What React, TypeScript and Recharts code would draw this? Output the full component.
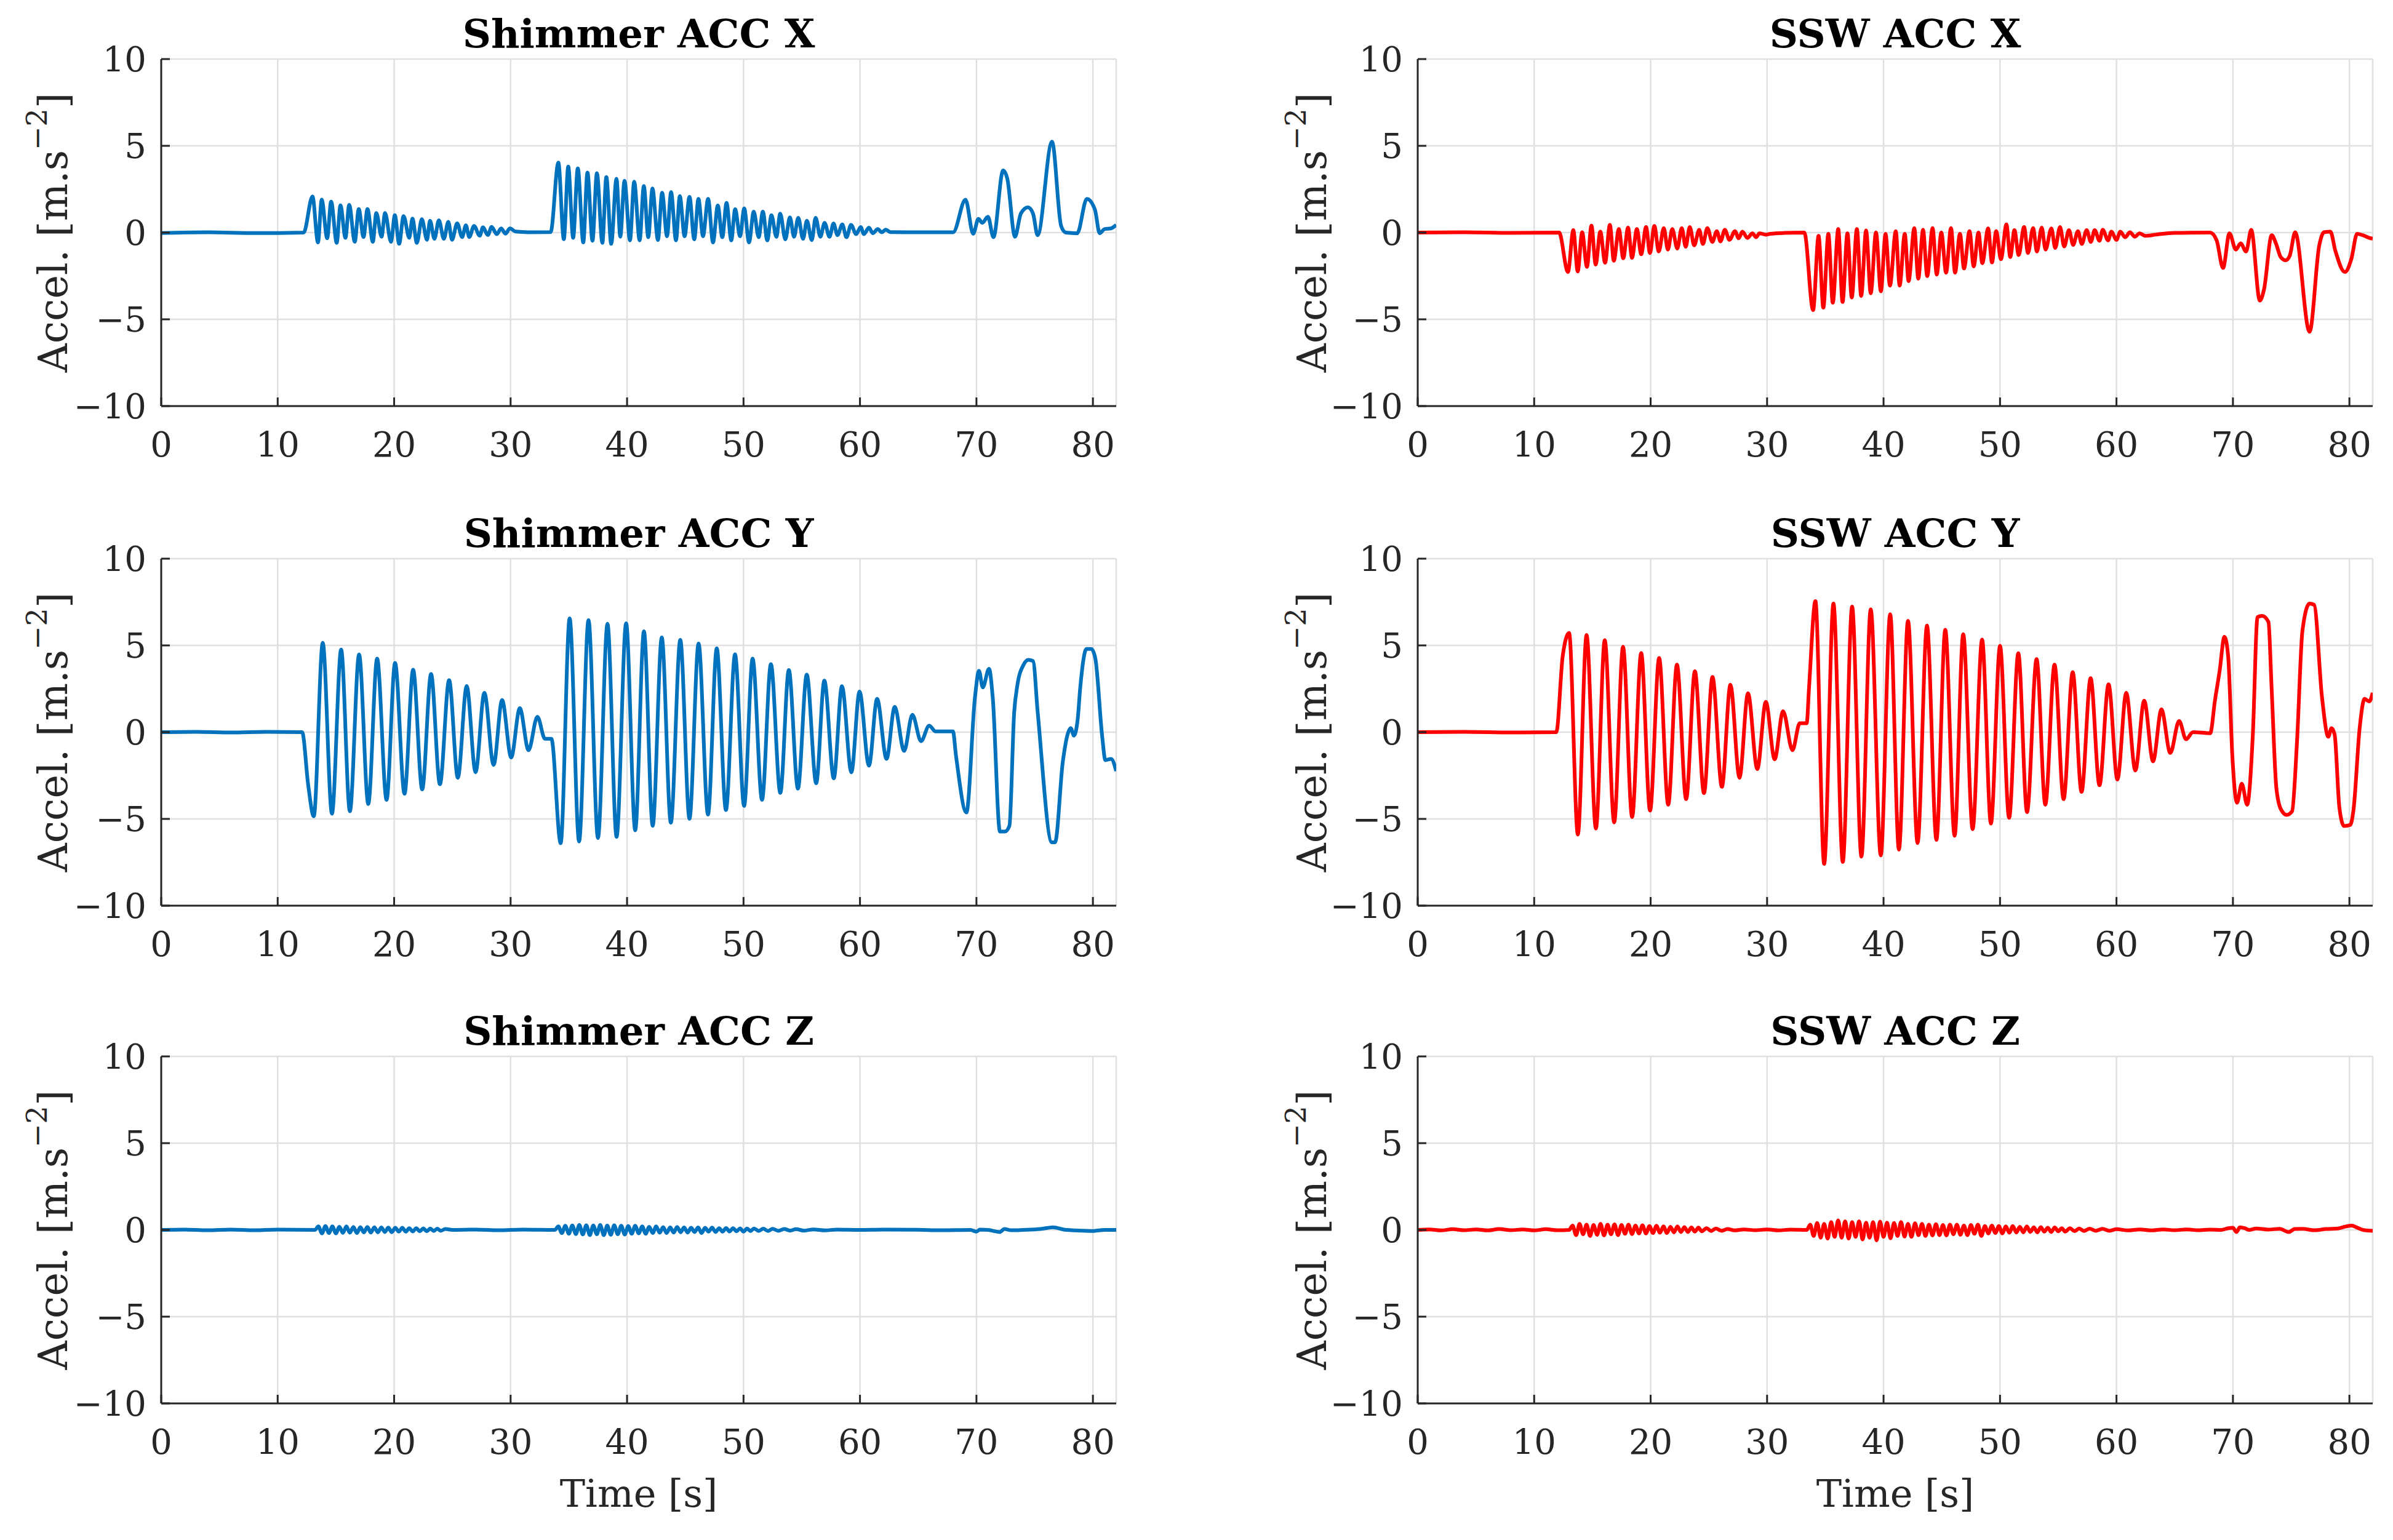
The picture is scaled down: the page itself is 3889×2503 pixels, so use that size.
import React from 'react';
import { LineChart, Line, XAxis, YAxis, CartesianGrid, Label } from 'recharts';

type Pt = [number, number];

const FONT = '"DejaVu Serif", "Liberation Serif", serif';
const INK = '#262626';
const GRID = '#e0e0e0';
const BLUE = '#0072BD';
const RED = '#FF0000';

const X_TICKS = [0, 10, 20, 30, 40, 50, 60, 70, 80];
const Y_TICKS = [-10, -5, 0, 5, 10];
const X_DOMAIN: [number, number] = [0, 82];
const Y_DOMAIN: [number, number] = [-10, 10];

const SHIMMER_X: Pt[] = [
  [0, -0.03], [4, 0.02], [8, -0.03], [12.23, 0], [12.99, 2.08], [13.46, -0.57], [13.78, 1.9], [14.25, -0.33],
  [14.59, 1.78], [15.07, -0.59], [15.39, 1.57], [15.82, -0.3], [16.14, 1.6], [16.62, -0.53], [16.96, 1.36],
  [17.37, -0.26], [17.71, 1.36], [18.17, -0.53], [18.47, 1.13], [18.92, -0.24], [19.22, 1.13], [19.73, -0.53],
  [20.06, 1.0], [20.43, -0.65], [20.81, 0.95], [21.3, -0.3], [21.57, 0.81], [21.95, -0.59], [22.38, 0.77],
  [22.82, -0.42], [23.08, 0.68], [23.46, -0.36], [23.84, 0.71], [24.27, -0.36], [24.65, 0.62], [24.97, -0.42],
  [25.41, 0.53], [25.84, -0.26], [26.16, 0.42], [26.45, -0.26], [26.86, 0.38], [27.35, -0.18], [27.62, 0.3],
  [28.05, -0.14], [28.37, 0.33], [28.81, -0.09], [29.19, 0.24], [29.56, -0.06], [29.94, 0.24], [30.42, 0.06],
  [31.5, 0.02], [33.44, 0.03], [34.1, 4.03], [34.57, -0.38], [34.95, 3.8], [35.37, -0.3], [35.77, 3.7],
  [36.24, -0.57], [36.6, 3.46], [37.03, -0.47], [37.41, 3.42], [37.88, -0.59], [38.22, 3.2], [38.64, -0.65],
  [39.09, 3.1], [39.42, -0.24], [39.78, 2.99], [40.25, -0.45], [40.61, 2.93], [41.08, -0.45], [41.44, 2.69],
  [41.82, -0.27], [42.18, 2.54], [42.65, -0.43], [43.01, 2.3], [43.43, -0.21], [43.78, 2.33], [44.2, -0.45],
  [44.53, 2.1], [44.94, -0.21], [45.36, 2.06], [45.77, -0.39], [46.13, 1.94], [46.52, -0.21], [46.96, 1.94],
  [47.38, -0.57], [47.79, 1.56], [48.18, -0.27], [48.54, 1.71], [48.95, -0.45], [49.28, 1.35], [49.7, -0.21],
  [50.06, 1.39], [50.47, -0.57], [50.88, 1.21], [51.3, -0.27], [51.66, 1.21], [52.04, -0.45], [52.4, 1.0],
  [52.82, -0.24], [53.15, 1.09], [53.59, -0.39], [53.98, 0.88], [54.34, -0.24], [54.7, 0.85], [55.11, -0.36],
  [55.44, 0.68], [55.86, -0.43], [56.19, 0.85], [56.6, -0.24], [56.96, 0.56], [57.38, -0.24], [57.73, 0.52],
  [58.07, -0.15], [58.48, 0.47], [58.84, -0.27], [59.23, 0.44], [59.67, -0.09], [60.06, 0.32], [60.33, -0.09],
  [60.77, 0.28], [61.1, -0.04], [61.52, 0.2], [61.88, 0.02], [62.21, 0.17], [62.6, 0.03], [65, 0.02],
  [68.0, 0.02], [69.06, 1.9], [69.72, -0.07], [70.17, 0.79], [70.5, 0.56], [70.99, 0.91], [71.46, -0.27],
  [72.29, 3.58], [72.65, 3.1], [73.31, -0.24], [73.81, 1.09], [74.42, 1.45], [74.86, 1.09], [75.25, -0.15],
  [76.49, 5.24], [77.27, 0.38], [77.68, 0], [78.65, -0.04], [79.48, 1.94], [80.17, 1.33], [80.58, -0.04],
  [81.0, 0.2], [81.55, 0.24], [82, 0.44],
];

const SSW_X: Pt[] = [
  [0, 0], [4, 0.02], [8, -0.02], [12.14, 0], [12.9, -2.27], [13.36, 0.14], [13.74, -2.24], [14.12, 0.02],
  [14.53, -1.98], [14.92, 0.4], [15.28, -1.84], [15.68, 0.05], [16.09, -1.74], [16.5, 0.44], [16.84, -1.62],
  [17.27, 0.2], [17.65, -1.48], [18.06, 0.28], [18.4, -1.45], [18.82, 0.2], [19.19, -1.25], [19.61, 0.32],
  [19.94, -1.18], [20.32, 0.38], [20.7, -1.09], [21.13, 0.26], [21.48, -0.98], [21.86, 0.2], [22.29, -0.92],
  [22.67, 0.26], [23.01, -0.82], [23.36, 0.32], [23.74, -0.74], [24.17, 0.16], [24.49, -0.66], [24.87, 0.26],
  [25.3, -0.54], [25.68, 0.08], [26.0, -0.51], [26.37, 0.16], [26.77, -0.42], [27.24, 0.08], [27.56, -0.33],
  [27.88, 0.05], [28.31, -0.31], [28.74, -0.04], [29.06, -0.27], [29.34, -0.04], [29.9, -0.12], [30.28, -0.07],
  [31.5, -0.02], [33.2, 0], [33.95, -4.47], [34.42, -0.19], [34.83, -4.33], [35.26, -0.07], [35.64, -4.04],
  [36.11, 0.2], [36.48, -4.0], [36.9, -0.04], [37.27, -3.74], [37.71, 0.2], [38.08, -3.65], [38.5, 0.12],
  [38.9, -3.5], [39.35, 0.01], [39.77, -3.39], [40.17, -0.07], [40.55, -3.06], [41.05, 0.08], [41.38, -3.06],
  [41.82, -0.07], [42.15, -2.8], [42.64, 0.26], [42.98, -2.66], [43.39, 0.16], [43.75, -2.51], [44.21, 0.26],
  [44.57, -2.42], [44.96, 0], [45.37, -2.31], [45.79, 0.26], [46.14, -2.31], [46.56, -0.07], [46.91, -2.07],
  [47.38, 0.08], [47.74, -1.95], [48.15, 0], [48.48, -1.76], [48.98, 0.24], [49.31, -1.72], [49.67, 0.08],
  [50.08, -1.53], [50.55, 0.47], [50.88, -1.41], [51.24, 0.14], [51.6, -1.29], [52.07, 0.32], [52.4, -1.18],
  [52.84, 0.26], [53.17, -1.09], [53.58, 0.28], [53.91, -0.98], [54.41, 0.24], [54.74, -0.89], [55.15, 0.32],
  [55.51, -0.8], [55.92, 0.14], [56.28, -0.71], [56.69, 0.08], [57.02, -0.66], [57.44, 0.14], [57.8, -0.54],
  [58.13, 0.14], [58.54, -0.47], [58.82, 0.16], [59.28, -0.45], [59.56, 0.05], [60.0, -0.42], [60.33, 0.05],
  [60.74, -0.27], [61.16, 0.02], [61.57, -0.24], [61.98, -0.04], [62.48, -0.19], [63.36, -0.12], [65, -0.02],
  [68.04, 0], [68.6, -0.45], [69.15, -2.04], [69.7, -0.04], [70.25, -0.98], [70.66, -0.62], [71.13, -1.09],
  [71.57, 0.16], [72.31, -3.92], [72.67, -3.27], [73.33, -0.15], [73.69, -0.62], [74.1, -1.41], [74.52, -1.6],
  [74.88, -1.33], [75.34, 0.02], [76.58, -5.72], [77.41, -0.74], [77.82, 0.02], [78.37, 0.05], [78.79, -1.04],
  [79.61, -2.27], [80.17, -1.51], [80.66, -0.07], [81.13, -0.15], [81.82, -0.33], [82, -0.35],
];

const SHIMMER_Y: Pt[] = [
  [0, 0], [3, 0.02], [6, -0.02], [9, 0.02], [12.1, 0], [12.63, -3.1], [13.1, -4.85], [13.87, 5.15], [14.66, -4.7],
  [15.45, 4.76], [16.2, -4.56], [16.99, 4.48], [17.78, -4.14], [18.54, 4.24], [19.35, -3.9], [20.08, 3.99],
  [20.89, -3.55], [21.63, 3.6], [22.41, -3.3], [23.17, 3.35], [23.93, -3.0], [24.72, 3.0], [25.47, -2.63],
  [26.23, 2.66], [26.99, -2.31], [27.75, 2.27], [28.54, -1.89], [29.27, 1.85], [30.05, -1.46], [30.79, 1.38],
  [31.54, -1.04], [32.3, 0.89], [32.95, -0.38], [33.5, -0.38], [34.3, -6.4], [35.07, 6.56], [35.88, -6.3],
  [36.69, 6.46], [37.5, -6.1], [38.32, 6.25], [39.1, -6.04], [39.92, 6.28], [40.7, -5.66], [41.45, 5.82],
  [42.2, -5.4], [42.98, 5.46], [43.76, -5.22], [44.57, 5.32], [45.36, -4.99], [46.14, 5.11], [46.95, -4.75],
  [47.7, 4.83], [48.49, -4.49], [49.27, 4.49], [50.05, -4.25], [50.78, 4.24], [51.59, -3.9], [52.35, 3.92],
  [53.16, -3.5], [53.89, 3.58], [54.67, -3.25], [55.43, 3.32], [56.24, -2.94], [56.94, 2.97], [57.75, -2.66],
  [58.45, 2.65], [59.26, -2.31], [59.96, 2.34], [60.77, -1.93], [61.47, 1.92], [62.28, -1.54], [62.98, 1.45],
  [63.79, -1.08], [64.5, 1.0], [65.24, -0.52], [65.94, 0.37], [66.5, 0.04], [67.98, 0.04], [68.25, -1.39],
  [69.14, -4.63], [69.87, 1.99], [70.22, 3.54], [70.54, 2.58], [71.08, 3.65], [71.4, 1.99], [72.02, -5.73],
  [72.43, -5.73], [72.83, -5.4], [73.24, 1.14], [73.51, 2.69], [74.05, 3.89], [74.45, 4.17], [74.86, 4.1],
  [75.26, 1.14], [76.48, -6.35], [76.75, -6.35], [77.42, -1.68], [78.1, 0.23], [78.37, -0.2], [78.69, 0.72],
  [78.91, 2.55], [79.45, 4.8], [79.86, 4.8], [80.21, 4.24], [80.8, -0.27], [81.07, -1.61], [81.56, -1.54],
  [82, -2.24],
];

const SSW_Y: Pt[] = [
  [0, 0], [4, 0.02], [8, -0.02], [11.9, 0], [12.45, 4.38], [13.0, 5.72], [13.75, -5.9], [14.5, 5.6],
  [15.3, -5.55], [16.06, 5.3], [16.87, -5.2], [17.63, 4.92], [18.41, -4.89], [19.19, 4.56], [19.95, -4.52],
  [20.73, 4.27], [21.51, -4.18], [22.26, 3.89], [23.05, -3.86], [23.8, 3.51], [24.58, -3.51], [25.31, 3.18],
  [26.12, -3.15], [26.85, 2.73], [27.63, -2.63], [28.36, 2.24], [29.16, -2.13], [29.89, 1.75], [30.65, -1.56],
  [31.37, 1.21], [32.18, -1.04], [32.8, 0.51], [33.4, 0.51], [33.6, 2.55], [34.15, 7.55], [34.9, -7.59],
  [35.7, 7.41], [36.5, -7.48], [37.3, 7.23], [38.1, -7.17], [38.9, 7.08], [39.76, -7.1], [40.57, 6.8],
  [41.32, -6.77], [42.1, 6.42], [42.92, -6.39], [43.73, 6.14], [44.54, -6.21], [45.3, 5.9], [46.1, -5.97],
  [46.84, 5.65], [47.65, -5.59], [48.46, 5.34], [49.22, -5.27], [50.0, 4.97], [50.78, -4.94], [51.57, 4.55],
  [52.32, -4.61], [53.14, 4.21], [53.89, -4.18], [54.68, 3.89], [55.46, -3.86], [56.24, 3.46], [57.0, -3.44],
  [57.78, 3.11], [58.54, -3.06], [59.32, 2.76], [60.08, -2.73], [60.84, 2.27], [61.62, -2.21], [62.38, 1.82],
  [63.14, -1.68], [63.86, 1.31], [64.62, -1.2], [65.38, 0.65], [65.97, -0.41], [66.57, 0], [68.05, -0.06],
  [68.46, 1.85], [68.86, 3.54], [69.27, 5.5], [69.59, 4.38], [69.95, -1.39], [70.35, -4.07], [70.76, -2.97],
  [71.22, -4.18], [71.7, -0.27], [72.11, 6.63], [72.51, 6.7], [73.05, 6.35], [73.32, 2.55], [73.73, -3.23],
  [74.13, -4.46], [74.62, -4.77], [75.08, -4.56], [75.49, -0.69], [75.97, 5.86], [76.57, 7.41], [76.97, 7.34],
  [77.65, 1.99], [78.19, -0.27], [78.46, 0.23], [78.73, -0.13], [79.14, -4.35], [79.54, -5.41], [80.08, -5.34],
  [80.35, -4.49], [80.89, 0.3], [81.3, 1.92], [81.7, 1.77], [82, 2.27],
];

const SHIMMER_Z: Pt[] = [
  [0, 0], [2, 0.02], [4, -0.02], [6, 0.02], [8, -0.02], [10, 0.02], [13.2, 0], [13.5, 0.2], [13.8, -0.2],
  [14.1, 0.22], [14.4, -0.18], [14.7, 0.2],
  [15.0, -0.2], [15.3, 0.18], [15.6, -0.17], [15.9, 0.2], [16.2, -0.16], [16.5, 0.17], [16.8, -0.18], [17.1, 0.16],
  [17.4, -0.14], [17.7, 0.17], [18.0, -0.15], [18.3, 0.15], [18.6, -0.14], [18.9, 0.14], [19.2, -0.12],
  [19.5, 0.13], [19.8, -0.13], [20.1, 0.12], [20.4, -0.1], [20.7, 0.12], [21.0, -0.1], [21.3, 0.1], [21.6, -0.09],
  [21.9, 0.1], [22.2, -0.08], [22.5, 0.09], [22.8, -0.08], [23.1, 0.08], [23.4, -0.06], [23.7, 0.07], [24.0, -0.05],
  [24.4, 0.05], [25, 0], [27, 0.02], [29, -0.02], [31, 0.02], [33.8, 0], [34.1, 0.2], [34.4, -0.18], [34.7, 0.24],
  [35.0, -0.22],
  [35.3, 0.26], [35.6, -0.24], [35.9, 0.28], [36.2, -0.26], [36.5, 0.27], [36.8, -0.3], [37.1, 0.26],
  [37.4, -0.25], [37.7, 0.28], [38.0, -0.3], [38.3, 0.25], [38.6, -0.28], [38.9, 0.27], [39.2, -0.25],
  [39.5, 0.24], [39.8, -0.27], [40.1, 0.22], [40.4, -0.22], [40.7, 0.24], [41.0, -0.2], [41.3, 0.2], [41.6, -0.22],
  [41.9, 0.18], [42.2, -0.18], [42.5, 0.2], [42.8, -0.16], [43.1, 0.16], [43.4, -0.18], [43.7, 0.15],
  [44.0, -0.15], [44.3, 0.17], [44.6, -0.13], [44.9, 0.14], [45.2, -0.15], [45.5, 0.12], [45.8, -0.12],
  [46.1, 0.14], [46.4, -0.18], [46.7, 0.12], [47.0, -0.1], [47.3, 0.13], [47.6, -0.12], [47.9, 0.1], [48.2, -0.1],
  [48.5, 0.11], [48.8, -0.09], [49.1, 0.1], [49.4, -0.08], [49.7, 0.09], [50.0, -0.1], [50.3, 0.08], [50.6, -0.07],
  [50.9, 0.08], [51.3, -0.06], [51.7, 0.07], [52.1, -0.06], [52.5, 0.06], [53, -0.05], [53.5, 0.05], [54, -0.04],
  [54.5, 0.04], [55.2, -0.04], [56, 0.03], [57, -0.03], [58, 0.02], [60, 0], [62, 0.02], [65, 0.01], [67, -0.02],
  [69.5, 0], [70, -0.1], [70.3, 0.02], [71, 0], [72, -0.12], [72.4, 0.05], [73, -0.02], [74, 0], [75.5, 0.05],
  [76.6, 0.15], [77.5, 0.02], [79, -0.04], [80, -0.06], [81, 0], [82, 0],
];

const SSW_Z: Pt[] = [
  [0, 0], [1, 0.03], [2, -0.03], [3, 0.04], [4, -0.02], [5, 0.03], [6, -0.03], [7, 0.05], [8, -0.02], [9, 0.03],
  [10, -0.03], [11, 0.04], [12, -0.02], [13.0, 0], [13.3, 0.25], [13.6, -0.3], [13.9, 0.35], [14.2, -0.25],
  [14.5, 0.3], [14.8, -0.35], [15.1, 0.28], [15.4, -0.28], [15.7, 0.35], [16.0, -0.32], [16.3, 0.3], [16.6, -0.25],
  [16.9, 0.32], [17.2, -0.3], [17.5, 0.28], [17.8, -0.22], [18.1, 0.3], [18.4, -0.24], [18.7, 0.25], [19.0, -0.2],
  [19.3, 0.27], [19.6, -0.2], [19.9, 0.22], [20.2, -0.18], [20.5, 0.24], [20.8, -0.16], [21.1, 0.2], [21.4, -0.18],
  [21.7, 0.18], [22.0, -0.14], [22.3, 0.2], [22.6, -0.12], [22.9, 0.16], [23.2, -0.12], [23.5, 0.14], [23.8, -0.1],
  [24.1, 0.13], [24.4, -0.08], [24.8, 0.1], [25.2, -0.06], [25.6, 0.08], [26.1, -0.05], [26.6, 0.05],
  [27.2, -0.03], [28, 0.03], [29, -0.02], [30, 0.03], [31, -0.03], [32, 0.02], [33.4, 0], [33.7, 0.3],
  [34.0, -0.35], [34.3, 0.4], [34.6, -0.45], [34.9, 0.35], [35.2, -0.5], [35.5, 0.45], [35.8, -0.4], [36.1, 0.55],
  [36.4, -0.45], [36.7, 0.5], [37.0, -0.5], [37.3, 0.45], [37.6, -0.4], [37.9, 0.5], [38.2, -0.55], [38.5, 0.42],
  [38.8, -0.45], [39.1, 0.45], [39.4, -0.6], [39.7, 0.48], [40.0, -0.4], [40.3, 0.42], [40.6, -0.48], [40.9, 0.4],
  [41.2, -0.35], [41.5, 0.45], [41.8, -0.38], [42.1, 0.35], [42.4, -0.4], [42.7, 0.38], [43.0, -0.3], [43.3, 0.35],
  [43.6, -0.35], [43.9, 0.3], [44.2, -0.32], [44.5, 0.33], [44.8, -0.3], [45.1, 0.28], [45.4, -0.32], [45.7, 0.3],
  [46.0, -0.25], [46.3, 0.3], [46.6, -0.28], [46.9, 0.25], [47.2, -0.3], [47.5, 0.28], [47.8, -0.22], [48.1, 0.3],
  [48.4, -0.35], [48.7, 0.22], [49.0, -0.2], [49.3, 0.25], [49.6, -0.18], [49.9, 0.22], [50.2, -0.2], [50.5, 0.2],
  [50.8, -0.16], [51.1, 0.22], [51.4, -0.15], [51.7, 0.18], [52.0, -0.14], [52.3, 0.2], [52.6, -0.12],
  [52.9, 0.15], [53.2, -0.14], [53.5, 0.16], [53.8, -0.1], [54.1, 0.12], [54.4, -0.12], [54.7, 0.14],
  [55.0, -0.08], [55.3, 0.1], [55.6, -0.1], [56.0, 0.1], [56.4, -0.07], [56.8, 0.08], [57.2, -0.06], [57.7, 0.07],
  [58.2, -0.05], [58.8, 0.06], [59.4, -0.05], [60, 0.04], [61, -0.03], [62, 0.03], [63, -0.03], [64, 0.03],
  [65, -0.02], [66, 0.03], [67, -0.02], [68, 0.02], [69, 0], [69.6, 0.1], [70, 0.12], [70.3, -0.12], [70.6, 0.15],
  [71, 0.1], [71.4, 0], [72, 0.08], [73, 0.02], [74, 0.06], [74.8, -0.12], [75.3, 0.05], [76, 0.06], [77, -0.02],
  [78, 0.05], [79, 0.08], [79.7, 0.2], [80.2, 0.25], [80.7, 0.12], [81.3, -0.02], [82, -0.05],
];

const TITLES = ['Shimmer ACC X', 'SSW ACC X', 'Shimmer ACC Y', 'SSW ACC Y', 'Shimmer ACC Z', 'SSW ACC Z'];
const SERIES: Pt[][] = [SHIMMER_X, SSW_X, SHIMMER_Y, SSW_Y, SHIMMER_Z, SSW_Z];
const COLORS = [BLUE, RED, BLUE, RED, BLUE, RED];

// layout (pixels)
const PLOT_TOPS = [96, 908, 1717];
const PLOT_H = 564;
const PLOT_W = 1552;
const Y_AXIS_W = 262;
const COL_LEFT = [0, 2042];
const COL_W = [1900, 1847];
const MARGIN_TOP = 96;

const fmtY = (v: number) => (v < 0 ? `\u2212${Math.abs(v)}` : `${v}`);

const tickStyle = { fill: INK, fontSize: 56, fontFamily: FONT };
const lineStyle = { stroke: INK, strokeWidth: 3 };

function makeTitle(text: string) {
  return (props: any) => {
    const vb = props.viewBox || {};
    const cx = vb.x + vb.width + PLOT_W / 2;
    const cy = vb.y - 42;
    return (
      <text x={cx} y={cy} textAnchor="middle" dominantBaseline="central" fontFamily={FONT} fontWeight="bold" fontSize={64} fill="#000">
        {text}
      </text>
    );
  };
}

function makeYLabel(offset: number) {
  return (props: any) => {
    const vb = props.viewBox || {};
    const cx = vb.x + offset;
    const cy = vb.y + vb.height / 2;
    return (
      <text x={cx} y={cy} transform={`rotate(-90 ${cx} ${cy})`} textAnchor="middle" dominantBaseline="central" fontFamily={FONT} fontSize={65} fill={INK}>
        Accel. [m.s
        <tspan dy={-26} fontSize={46}>{'\u22122'}</tspan>
        <tspan dy={26}>]</tspan>
      </text>
    );
  };
}

const renderTimeLabel = (props: any) => {
  const vb = props.viewBox || {};
  const cx = vb.x + vb.width / 2;
  const cy = vb.y + 146;
  return (
    <text x={cx} y={cy} textAnchor="middle" dominantBaseline="central" fontFamily={FONT} fontSize={62} fill={INK}>
      Time [s]
    </text>
  );
};

function Panel({ index }: { index: number }) {
  const row = Math.floor(index / 2);
  const col = index % 2;
  const isBottom = row === 2;
  const W = COL_W[col];
  const H = isBottom ? 850 : 770;
  const marginBottom = 10;
  const xAxisH = H - MARGIN_TOP - PLOT_H - marginBottom;
  const data = SERIES[index].map(([t, v]) => ({ t, v }));
  return (
    <div style={{ position: 'absolute', left: COL_LEFT[col], top: PLOT_TOPS[row] - MARGIN_TOP, width: W, height: H }}>
      <LineChart
        width={W}
        height={H}
        data={data}
        margin={{ top: MARGIN_TOP, right: W - Y_AXIS_W - PLOT_W, bottom: marginBottom, left: 0 }}
      >
        <CartesianGrid xAxisId="b" yAxisId="l" stroke={GRID} strokeWidth={2.5} />
        <XAxis
          xAxisId="b"
          dataKey="t"
          type="number"
          domain={X_DOMAIN}
          ticks={X_TICKS}
          interval={0}
          allowDataOverflow
          height={xAxisH}
          tickSize={-14}
          tickMargin={56}
          axisLine={lineStyle}
          tickLine={lineStyle}
          tick={tickStyle}
        >
          {isBottom ? <Label content={renderTimeLabel} /> : null}
        </XAxis>
        <XAxis
          xAxisId="t"
          orientation="top"
          type="number"
          domain={X_DOMAIN}
          ticks={X_TICKS}
          interval={0}
          allowDataOverflow
          height={0}
          tickSize={-14}
          axisLine={lineStyle}
          tickLine={lineStyle}
          tick={false}
        />
        <YAxis
          yAxisId="l"
          type="number"
          domain={Y_DOMAIN}
          ticks={Y_TICKS}
          interval={0}
          allowDataOverflow
          width={Y_AXIS_W}
          tickSize={-14}
          tickMargin={38}
          tickFormatter={fmtY}
          axisLine={lineStyle}
          tickLine={lineStyle}
          tick={tickStyle}
        >
          <Label content={makeYLabel(col === 0 ? 86 : 90)} />
          <Label content={makeTitle(TITLES[index])} />
        </YAxis>
        <YAxis
          yAxisId="r"
          orientation="right"
          type="number"
          domain={Y_DOMAIN}
          ticks={Y_TICKS}
          interval={0}
          allowDataOverflow
          width={0}
          tickSize={-14}
          axisLine={lineStyle}
          tickLine={lineStyle}
          tick={false}
        />
        <Line
          xAxisId="b"
          yAxisId="l"
          dataKey="v"
          type="monotone"
          stroke={COLORS[index]}
          strokeWidth={6}
          dot={false}
          activeDot={false}
          isAnimationActive={false}
        />
      </LineChart>
    </div>
  );
}

export default function App() {
  return (
    <div style={{ position: 'absolute', left: 0, top: 0, width: 3889, height: 2503, background: '#fff', overflow: 'hidden' }}>
      {TITLES.map((_, i) => (
        <Panel key={i} index={i} />
      ))}
    </div>
  );
}
